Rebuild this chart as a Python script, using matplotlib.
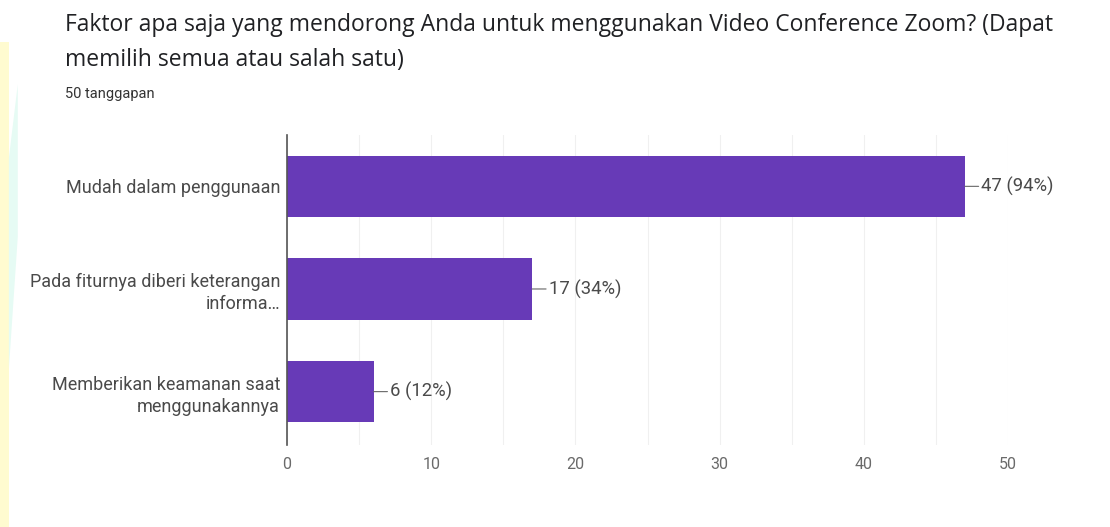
import matplotlib
matplotlib.use("Agg")
import matplotlib.pyplot as plt
from matplotlib.patches import Rectangle, Polygon

plt.rcParams['font.family'] = ['Roboto', 'DejaVu Sans']

categories = ["Mudah dalam penggunaan",
              "Pada fiturnya diberi keterangan\ninforma…",
              "Memberikan keamanan saat\nmenggunakannya"]
counts = [47, 17, 6]
labels = ["47 (94%)", "17 (34%)", "6 (12%)"]
xticks = [0, 10, 20, 30, 40, 50]
title = "Faktor apa saja yang mendorong Anda untuk menggunakan Video Conference Zoom? (Dapat\nmemilih semua atau salah satu)"
subtitle = "50 tanggapan"

fig = plt.figure(figsize=(11.1, 5.27), dpi=100)
fig.patch.set_facecolor("white")

# faint decorative stripes at left edge
fig.patches.append(Rectangle((0, 0.0), 0.008, 0.92, transform=fig.transFigure,
                             facecolor="#fffbd0", edgecolor="none", zorder=0))
fig.patches.append(Polygon([[0.008, 0.70], [0.016, 0.84], [0.016, 0.55], [0.008, 0.30]],
                           closed=True, transform=fig.transFigure,
                           facecolor="#e6fbf4", edgecolor="none", zorder=0))

ax = fig.add_axes([0.2586, 0.1556, 0.6495, 0.5882])
y = list(range(len(categories)))
ax.barh(y, counts, height=0.6, color="#673ab7", zorder=3)
ax.set_ylim(2.52, -0.5)
ax.set_xlim(0, 50)
ax.set_yticks(y)
ax.set_yticklabels(categories, fontsize=13, color="#4a4a4a", linespacing=1.3)
ax.set_xticks(xticks)
ax.set_xticklabels([str(t) for t in xticks], fontsize=11.5, color="#6a6a6a")
ax.set_xticks(list(range(5, 50, 10)), minor=True)
ax.tick_params(axis='both', which='both', length=0)
ax.tick_params(axis='x', pad=9)
ax.tick_params(axis='y', pad=5)
ax.grid(axis='x', which='both', color="#f0f0f0", lw=0.8, zorder=0)
for s in ['top', 'right', 'bottom']:
    ax.spines[s].set_visible(False)
ax.spines['left'].set_color("#555555")
ax.spines['left'].set_linewidth(1.2)
ax.spines['left'].set_zorder(4)

for yi, v, lab in zip(y, counts, labels):
    ax.annotate(lab, xy=(v, yi), xytext=(12, 0), textcoords='offset points',
                va='center', ha='left', fontsize=13.3, color="#4a4a4a",
                arrowprops=dict(arrowstyle='-', color="#666666", lw=0.8,
                                shrinkA=0, shrinkB=0))

fig.text(0.0586, 0.975, title, fontsize=16.5, color="#202124", va='top',
         ha='left', linespacing=1.6, family=['Open Sans', 'DejaVu Sans'])
fig.text(0.0586, 0.835, subtitle, fontsize=10.5, color="#333333", va='top', ha='left')

fig.savefig("out.png", dpi=100)
